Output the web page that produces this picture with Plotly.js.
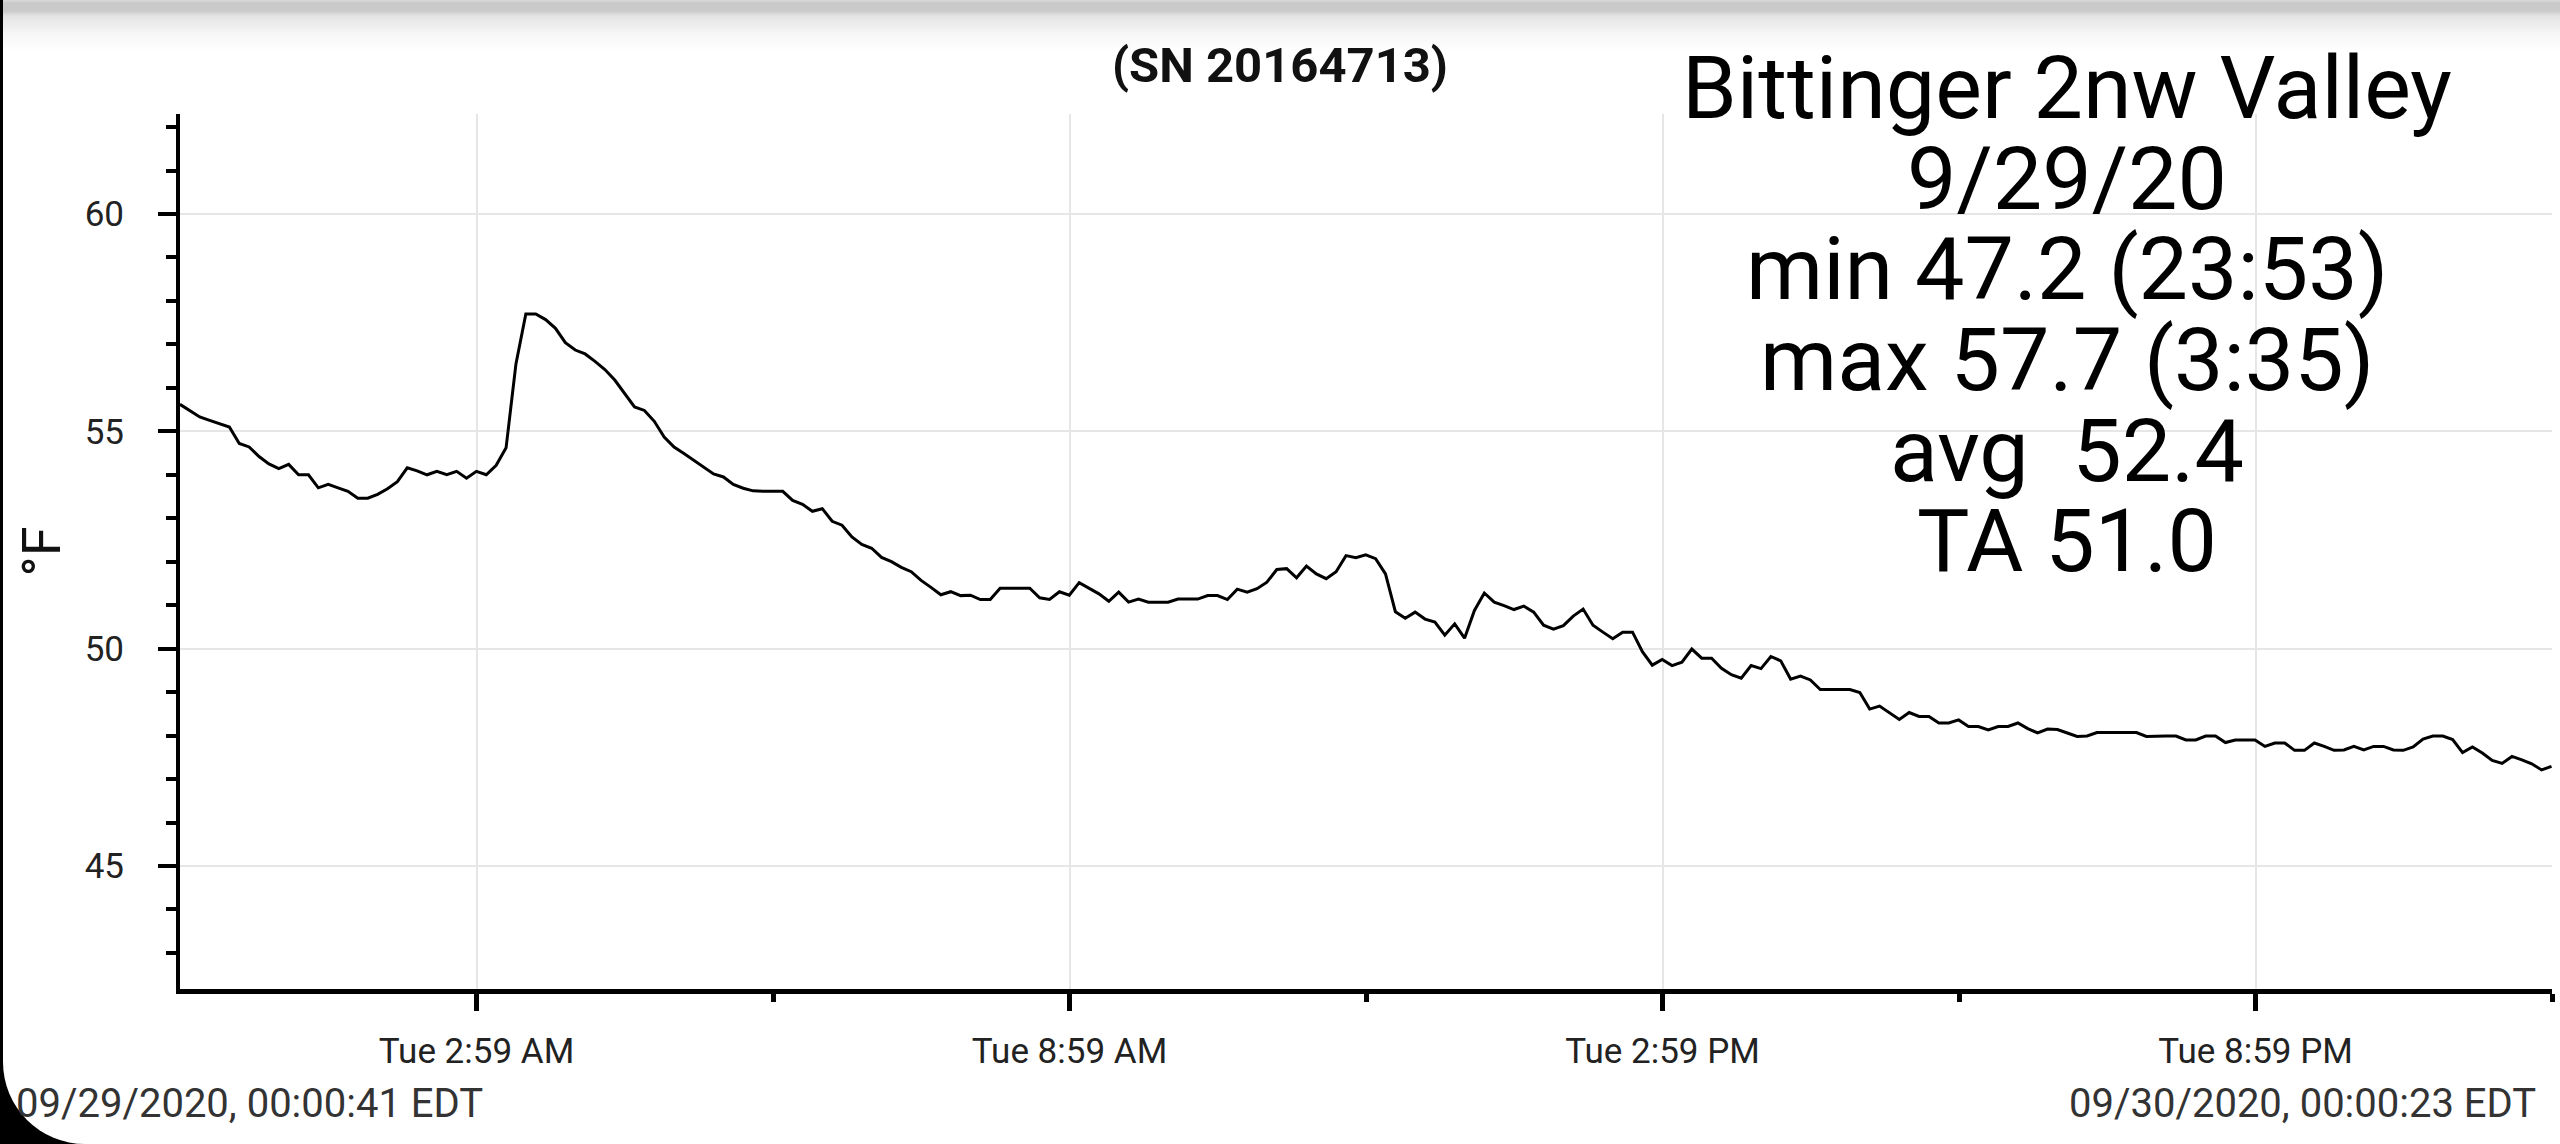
<!DOCTYPE html>
<html>
<head>
<meta charset="utf-8">
<script src="https://cdn.plot.ly/plotly-3.0.1.min.js"></script>
<style>
  html, body { margin: 0; padding: 0; background: #000; }
  #frame { position: relative; width: 2560px; height: 1144px; overflow: hidden; background: #000; }
  #screen { position: absolute; left: 3px; top: 0; right: 0; bottom: 0; background: #fff; border-bottom-left-radius: 82px; }
  #topbar { position: absolute; left: 3px; top: 0; right: 0; height: 52px;
            background: linear-gradient(#dadada 0px, #c9c9c9 3px, #cacaca 11px, #e4e4e4 16px, #f6f6f6 34px, #ffffff 52px); }
  #myDiv { position: absolute; left: 0; top: 0; width: 2560px; height: 1144px; }
</style>
</head>
<body>
<div id="frame">
  <div id="screen"></div>
  <div id="topbar"></div>
  <div id="myDiv"></div>
</div>
<script>
// logger run: first and last sample
const startTime = '2020-09-29T00:00:41Z';
const endTime = '2020-09-30T00:00:23Z';

// temperature readings (°F), one per logging interval
const tempsEarly = [55.62, 55.48, 55.33, 55.25, 55.18, 55.10, 54.72, 54.64, 54.42, 54.25,
  54.14, 54.24, 54.00, 54.00, 53.70, 53.78, 53.70, 53.62, 53.46, 53.46,
  53.55, 53.68, 53.84, 54.16, 54.09, 54.00, 54.08, 54.00, 54.08, 53.92,
  54.08, 54.00, 54.22, 54.62, 56.55, 57.70, 57.70, 57.57, 57.37, 57.04,
  56.87, 56.78, 56.61, 56.42, 56.18, 55.88, 55.56, 55.48, 55.23, 54.87,
  54.64, 54.49, 54.33, 54.18, 54.02, 53.95, 53.78, 53.69, 53.63, 53.62];
const tempsMorning = [53.62, 53.62, 53.41, 53.32, 53.16, 53.22, 52.93, 52.84, 52.57, 52.40,
  52.31, 52.10, 52.00, 51.87, 51.77, 51.57, 51.41, 51.24, 51.31, 51.22,
  51.23, 51.13, 51.13, 51.39, 51.39, 51.39, 51.39, 51.17, 51.13, 51.31,
  51.23, 51.52, 51.39, 51.26, 51.09, 51.30, 51.07, 51.14, 51.07, 51.07,
  51.07, 51.14, 51.14, 51.14, 51.22, 51.22, 51.13, 51.37, 51.30, 51.38,
  51.53, 51.82, 51.84, 51.63, 51.90, 51.72, 51.61, 51.77, 52.14, 52.09];
const tempsAfternoon = [52.16, 52.07, 51.72, 50.85, 50.70, 50.84, 50.68, 50.61, 50.31, 50.57,
  50.24, 50.88, 51.28, 51.07, 50.99, 50.90, 50.98, 50.84, 50.54, 50.45,
  50.53, 50.75, 50.91, 50.54, 50.38, 50.23, 50.38, 50.38, 49.93, 49.62,
  49.75, 49.61, 49.69, 49.99, 49.78, 49.78, 49.55, 49.40, 49.32, 49.61,
  49.54, 49.82, 49.72, 49.30, 49.37, 49.28, 49.06, 49.06, 49.06, 49.06,
  48.99, 48.61, 48.68, 48.52, 48.37, 48.53, 48.44, 48.44, 48.29, 48.29];
const tempsEvening = [48.36, 48.21, 48.21, 48.13, 48.21, 48.21, 48.29, 48.16, 48.06, 48.15,
  48.14, 48.06, 47.98, 47.99, 48.07, 48.07, 48.07, 48.07, 48.07, 47.98,
  47.99, 47.99, 47.99, 47.90, 47.90, 47.99, 47.99, 47.84, 47.90, 47.90,
  47.90, 47.75, 47.83, 47.83, 47.66, 47.66, 47.83, 47.75, 47.66, 47.67,
  47.75, 47.67, 47.75, 47.75, 47.67, 47.66, 47.74, 47.92, 47.99, 47.99,
  47.91, 47.61, 47.74, 47.60, 47.43, 47.36, 47.52, 47.44, 47.35, 47.21, 47.29];

const xTickVals = ['2020-09-29 03:00:41', '2020-09-29 09:00:41', '2020-09-29 15:00:41', '2020-09-29 21:00:41'];
const xTickText = ['Tue 2:59 AM', 'Tue 8:59 AM', 'Tue 2:59 PM', 'Tue 8:59 PM'];
const xMinorVals = ['2020-09-29 06:00:41', '2020-09-29 12:00:41', '2020-09-29 18:00:41', '2020-09-30 00:00:41'];

const serial = '(SN 20164713)';
const statsLines = ['Bittinger 2nw Valley', '9/29/20', 'min 47.2 (23:53)', 'max 57.7 (3:35)', 'avg\u00a0 52.4', 'TA 51.0'];
const startLabel = '09/29/2020, 00:00:41 EDT';
const endLabel = '09/30/2020, 00:00:23 EDT';

const temps = tempsEarly.concat(tempsMorning, tempsAfternoon, tempsEvening);

function fmt(ms) {
    return new Date(ms).toISOString().slice(0, 19).replace('T', ' ');
}
let t0 = Date.parse(startTime);
let t1 = Date.parse(endTime);
let step = (t1 - t0) / (temps.length - 1);
let times = [];
for (let i = 0; i < temps.length; i++) {
    times.push(fmt(t0 + i * step));
}

// plot box in pixels
let L = 180, R = 8, T = 114, B = 155;
let W = 2560, H = 1144;
let pw = W - L - R, ph = H - T - B;
function px(x) { return (x - L) / pw; }
function py(y) { return (H - B - y) / ph; }

let statsY = [88, 178, 268, 359, 450, 540];
let annotations = statsLines.map((s, i) => ({
    text: s, xref: 'paper', yref: 'paper', x: px(2067), y: py(statsY[i]),
    xanchor: 'center', yanchor: 'middle', showarrow: false,
    font: {family: 'Roboto', size: 88, color: '#000'}
}));
annotations.push({
    text: startLabel, xref: 'paper', yref: 'paper', x: px(14), y: py(1103),
    xanchor: 'left', yanchor: 'middle', showarrow: false,
    font: {family: 'Roboto', size: 40, color: '#333'}
});
annotations.push({
    text: endLabel, xref: 'paper', yref: 'paper', x: px(2538), y: py(1103),
    xanchor: 'right', yanchor: 'middle', showarrow: false,
    font: {family: 'Roboto', size: 40, color: '#333'}
});

var trace = {
    x: times,
    y: temps,
    type: 'scatter',
    mode: 'lines',
    line: {color: '#000', width: 3},
    hoverinfo: 'x+y'
};

var layout = {
    width: W,
    height: H,
    margin: {l: L, r: R, t: T, b: B},
    paper_bgcolor: 'rgba(0,0,0,0)',
    plot_bgcolor: 'rgba(0,0,0,0)',
    showlegend: false,
    font: {family: 'Roboto', color: '#222'},
    title: {
        text: serial, xref: 'container', yref: 'container',
        x: 0.5, xanchor: 'center', y: 1 - 65 / H, yanchor: 'middle',
        font: {family: 'Roboto', size: 49, color: '#111', weight: 'bold'}
    },
    xaxis: {
        type: 'date',
        range: ['2020-09-29 00:00:41', '2020-09-30 00:00:41'],
        tickmode: 'array', tickvals: xTickVals, ticktext: xTickText,
        ticks: 'outside', ticklen: 17, tickwidth: 5, tickcolor: '#000',
        showline: true, linecolor: '#000', linewidth: 5,
        showgrid: true, gridcolor: '#e6e6e6', gridwidth: 2,
        zeroline: false,
        tickfont: {family: 'Roboto', size: 35, color: '#222'},
        ticklabelstandoff: 10,
        minor: {tickmode: 'array', tickvals: xMinorVals, ticks: 'outside', ticklen: 8, tickwidth: 5, tickcolor: '#000', showgrid: false}
    },
    yaxis: {
        range: [42.17, 62.3],
        tick0: 0, dtick: 5,
        ticks: 'outside', ticklen: 18, tickwidth: 4, tickcolor: '#000',
        showline: true, linecolor: '#000', linewidth: 4,
        showgrid: true, gridcolor: '#e6e6e6', gridwidth: 2,
        zeroline: false,
        tickfont: {family: 'Roboto', size: 35, color: '#222'},
        ticklabelstandoff: 27,
        minor: {dtick: 1, ticks: 'outside', ticklen: 10, tickwidth: 4, tickcolor: '#000', showgrid: false},
        title: {text: '°F', standoff: 8, font: {family: 'Roboto', size: 54, color: '#111'}}
    },
    annotations: annotations
};

Plotly.newPlot('myDiv', [trace], layout, {displayModeBar: false, staticPlot: true});
</script>
</body>
</html>
